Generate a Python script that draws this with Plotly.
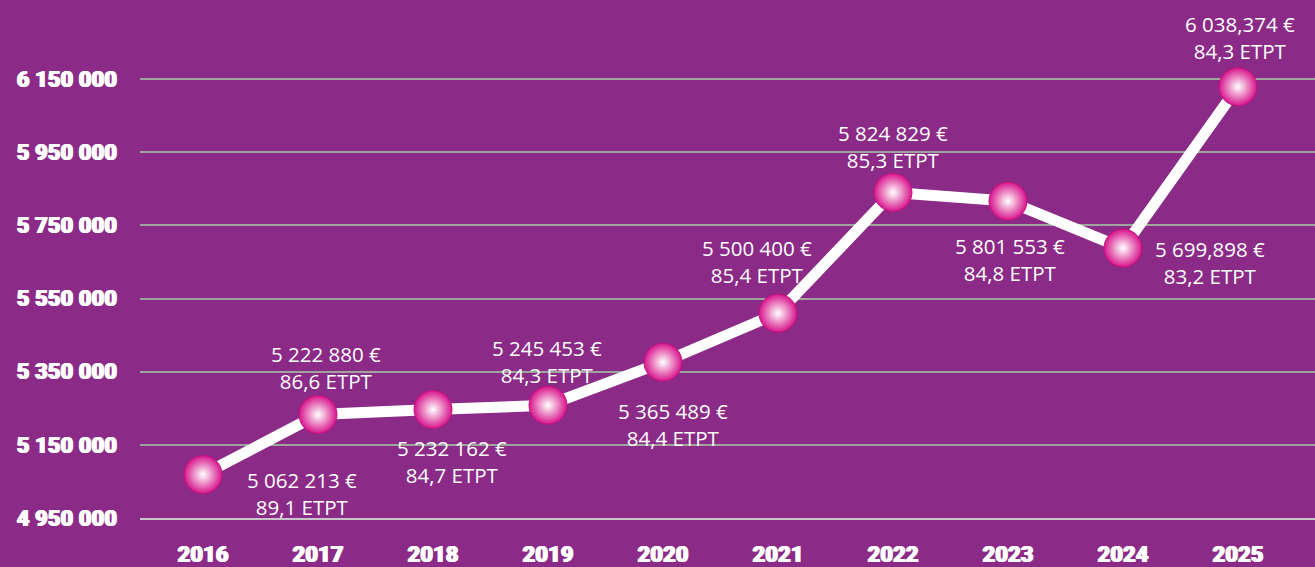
import plotly.graph_objects as go

years = ["2016", "2017", "2018", "2019", "2020", "2021", "2022", "2023", "2024", "2025"]
# values as plotted (marker positions)
amounts = [5068700, 5232800, 5246500, 5258300, 5375900, 5510000, 5840100, 5816300, 5687700, 6128900]
amount_labels = ["5 062 213 €", "5 222 880 €", "5 232 162 €", "5 245 453 €", "5 365 489 €",
                 "5 500 400 €", "5 824 829 €", "5 801 553 €", "5 699,898 €", "6 038,374 €"]
etpt_labels = ["89,1 ETPT", "86,6 ETPT", "84,7 ETPT", "84,3 ETPT", "84,4 ETPT",
               "85,4 ETPT", "85,3 ETPT", "84,8 ETPT", "83,2 ETPT", "84,3 ETPT"]
y_ticks = [4950000, 5150000, 5350000, 5550000, 5750000, 5950000, 6150000]
y_tick_text = ["4 950 000", "5 150 000", "5 350 000", "5 550 000", "5 750 000", "5 950 000", "6 150 000"]

# label offsets in pixels (style)
label_offsets = [(99, -19), (8, 47), (19, -52), (-1, 44), (10, -62),
                 (-21, 52), (0, 46), (2, -58), (87, -14), (2, 49)]

BG = "#8B2A87"
x_pos = list(range(len(years)))
heavy = dict(family="Roboto", size=22, color="white", weight=900,
             shadow="0.7px 0px 0px white, -0.7px 0px 0px white")

fig = go.Figure()
fig.add_trace(go.Scatter(
    x=x_pos, y=amounts, mode="lines+markers",
    line=dict(color="white", width=11),
    marker=dict(size=38, color="#D8158C",
                gradient=dict(type="radial", color="#FFFFFF"),
                line=dict(color="#C4117F", width=1)),
    hoverinfo="skip", showlegend=False,
))

annotations = []
for i in range(len(years)):
    dx, dy = label_offsets[i]
    annotations.append(dict(
        x=x_pos[i], y=amounts[i], xref="x", yref="y",
        text=amount_labels[i] + "<br>" + etpt_labels[i],
        showarrow=False, xshift=dx, yshift=dy,
        font=dict(family="Open Sans", size=20.5, color="white"),
        align="center",
    ))

fig.update_layout(
    width=1315, height=567,
    paper_bgcolor=BG, plot_bgcolor=BG,
    margin=dict(l=140, r=0, t=0, b=49),
    annotations=annotations,
    xaxis=dict(
        range=[-0.548, 9.67], tickvals=x_pos, ticktext=years,
        showgrid=False, zeroline=False, showline=True, linecolor="#C9C6C9", linewidth=2,
        ticks="", tickfont=heavy,
        ticklabelstandoff=16,
    ),
    yaxis=dict(
        range=[4950000, 6366100], tickvals=y_ticks, ticktext=y_tick_text,
        showgrid=True, gridcolor="#9FA59C", gridwidth=1.5,
        zeroline=False, showline=False, ticks="",
        tickfont=heavy,
        ticklabelstandoff=22,
    ),
)

fig.write_html("out.html", config={"displayModeBar": False},
               post_script="document.body.style.margin='0';document.body.style.background='%s';" % BG)
